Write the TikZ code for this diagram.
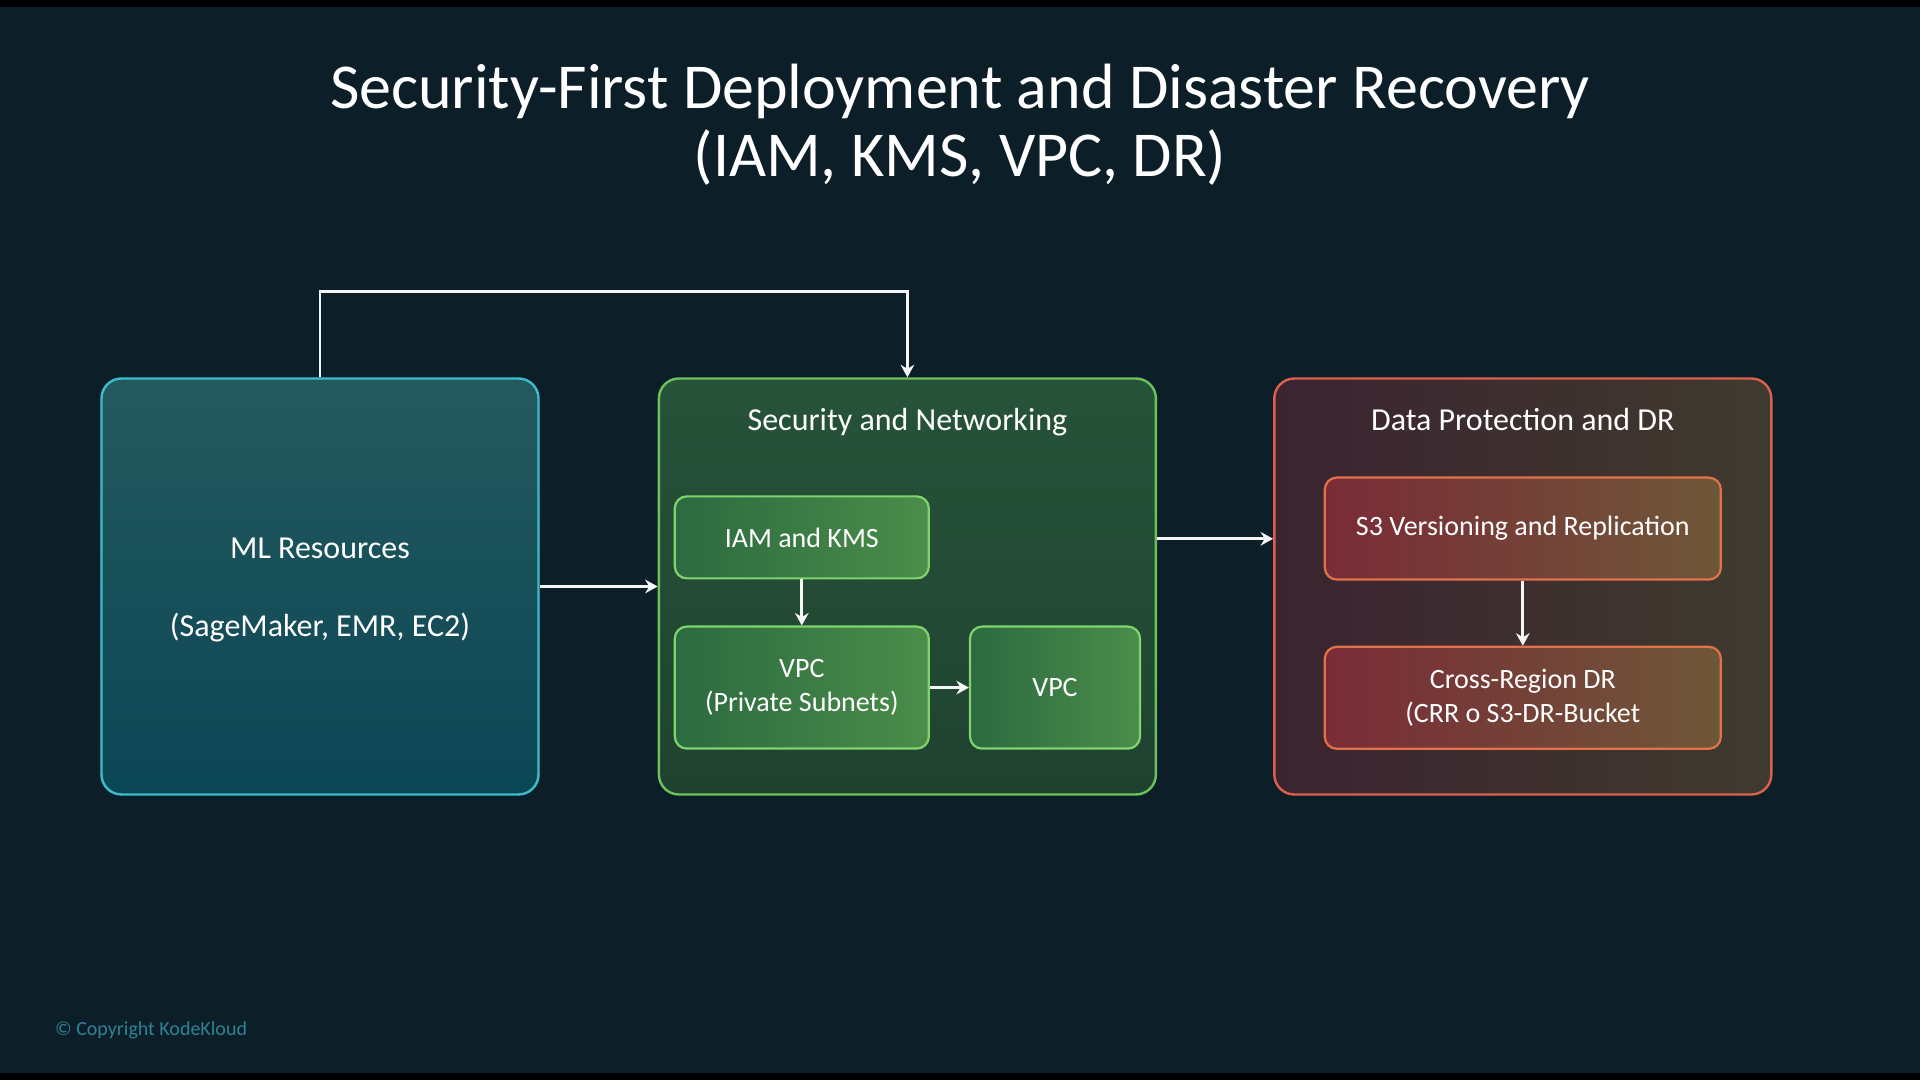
\documentclass[tikz,border=0pt]{standalone}
\usepackage{fontspec}
\setmainfont{Carlito}
\usepackage{tikz}
\usetikzlibrary{positioning,arrows.meta}
\usepackage{xcolor}

\definecolor{bgdark}{HTML}{0C1F28}
\definecolor{mltop}{HTML}{245A5E}
\definecolor{mlbottom}{HTML}{0B4656}
\definecolor{mlborder}{HTML}{3CBCCC}
\definecolor{sectop}{HTML}{27533A}
\definecolor{secbottom}{HTML}{1F4230}
\definecolor{secborder}{HTML}{6CC25A}
\definecolor{greenleft}{HTML}{2C6A40}
\definecolor{greenright}{HTML}{4B8D4A}
\definecolor{greenborder}{HTML}{80D46E}
\definecolor{dpleft}{HTML}{3B2430}
\definecolor{dpright}{HTML}{3F3A2F}
\definecolor{dpborder}{HTML}{DD604C}
\definecolor{redleft}{HTML}{7A2B37}
\definecolor{redright}{HTML}{6E5738}
\definecolor{redborder}{HTML}{E2724A}
\definecolor{copyteal}{HTML}{2D8296}

\begin{document}
\begin{tikzpicture}[x=0.5pt, y=0.5pt,
  group/.style={draw, line width=1.2pt, rounded corners=10pt,
                minimum height=208pt, inner sep=0pt},
  box/.style={draw, line width=1.1pt, rounded corners=6pt, align=center,
              inner sep=0pt, text=white, font=\fontsize{14}{17}\selectfont},
  greenbox/.style={box, draw=greenborder, left color=greenleft, right color=greenright},
  redbox/.style={box, draw=redborder, left color=redleft, right color=redright},
  grouptitle/.style={font=\fontsize{16}{18}\selectfont, text=white, anchor=base},
  flow/.style={draw=white!92!gray, line width=1.5pt, -{Stealth[length=2.2mm,width=2.4mm]}},
  ]
  \fill[bgdark] (0,0) rectangle (1920,1080);
  \fill[black] (0,1073) rectangle (1920,1080);
  \fill[black] (0,0) rectangle (1920,7);
  \useasboundingbox (0,0) rectangle (1920,1080);

  \node[font=\fontsize{32}{34}\selectfont, text=white, align=center] (title) at (960,955)
    {Security-First Deployment and Disaster Recovery\\(IAM, KMS, VPC, DR)};

  \node[group, draw=mlborder, top color=mltop, bottom color=mlbottom,
        minimum width=218.5pt, align=center, text=white,
        font=\fontsize{16}{18}\selectfont] (ml) at (320,493.5)
    {\rule{0pt}{14pt}ML Resources\\[20.75pt](SageMaker, EMR, EC2)};

  \node[group, draw=secborder, top color=sectop, bottom color=secbottom,
        minimum width=248.5pt, right=59pt of ml] (sec) {};
  \node[grouptitle] (sectitle) at ([yshift=-26.75pt]sec.north) {Security and Networking};
  \node[greenbox, minimum width=127pt, minimum height=41pt,
        below right=59pt and 8pt of sec.north west] (iam) {IAM and KMS};
  \node[greenbox, minimum width=127pt, minimum height=61pt, below=23pt of iam] (vpcpriv)
    {VPC\\(Private Subnets)};
  \node[greenbox, minimum width=85pt, minimum height=61pt, right=19.5pt of vpcpriv] (vpc) {VPC};

  \node[group, draw=dpborder, left color=dpleft, right color=dpright,
        minimum width=248.5pt, right=58pt of sec] (dp) {};
  \node[grouptitle] (dptitle) at ([yshift=-26.75pt]dp.north) {Data Protection and DR};
  \node[redbox, minimum width=198pt, minimum height=51pt, below=49.6pt of dp.north] (s3)
    {S3 Versioning and Replication};
  \node[redbox, minimum width=198pt, minimum height=51pt, below=32.5pt of s3] (crr)
    {Cross-Region DR\\(CRR o S3-DR-Bucket};

  \node[anchor=west, text=copyteal, font=\fontsize{10}{12}\selectfont] (copy) at (48,50)
    {© Copyright KodeKloud};

  % connectors
  \coordinate (loop) at ([yshift=43pt]sec.north);
  \draw[flow, line width=1.3pt] (ml.north) |- (loop) -- (sec.north);
  \draw[flow] (ml) -- (sec);
  \draw[flow] ([yshift=23.85pt]sec.east) -- ([yshift=23.85pt]dp.west);
  \draw[flow] (iam) -- (vpcpriv);
  \draw[flow] (vpcpriv) -- (vpc);
  \draw[flow] (s3) -- (crr);
\end{tikzpicture}
\end{document}
